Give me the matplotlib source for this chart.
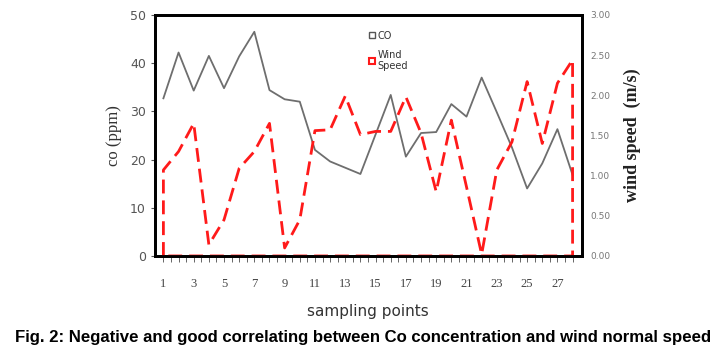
import matplotlib.pyplot as plt
from matplotlib.lines import Line2D

# sampling points 1..28
points = list(range(1, 29))

co_ppm = [32.7, 42.2, 34.3, 41.5, 34.8, 41.4, 46.5, 34.4, 32.5, 32.0,
          22.0, 19.6, 18.3, 17.0, 25.2, 33.4, 20.6, 25.5, 25.7, 31.5,
          28.9, 37.0, 29.8, 22.5, 14.0, 19.2, 26.3, 16.8]

wind_ms = [1.07, 1.30, 1.65, 0.14, 0.45, 1.09, 1.30, 1.65, 0.10, 0.45,
           1.56, 1.57, 1.99, 1.51, 1.55, 1.55, 1.98, 1.53, 0.80, 1.69,
           0.86, 0.02, 1.07, 1.42, 2.17, 1.40, 2.15, 2.44]

xtick_labels = [str(p) for p in points if p % 2 == 1 and p < 28]
co_ticks = [0, 10, 20, 30, 40, 50]
wind_ticks = [0.0, 0.5, 1.0, 1.5, 2.0, 2.5, 3.0]

fig = plt.figure(figsize=(7.28, 3.55), dpi=100)
ax = fig.add_axes([0.213, 0.279, 0.586, 0.679])

ax.plot(points, co_ppm, color='#6e6e6e', lw=1.3, zorder=3)
ax.set_xlim(0.45, 28.6)
ax.set_ylim(0, 50)
ax.set_yticks(co_ticks)
ax.set_yticklabels([str(t) for t in co_ticks], fontsize=9, color='#555555')
ax.set_xticks([p / 2 for p in range(2, 57)], minor=True)
ax.set_xticks([p for p in points if p % 2 == 1 and p < 28])
ax.set_xticklabels(xtick_labels, fontsize=9, family='Liberation Serif', color='#444444')
ax.tick_params(axis='x', which='both', length=4, width=0.7, color='#666666', pad=12)
ax.tick_params(axis='y', length=3, width=0.8, color='#555555')
ax.set_ylabel('co (ppm)', family='Liberation Serif', fontsize=12, color='#333333', labelpad=6)
ax.set_xlabel('sampling points', fontsize=11, color='#333333', labelpad=10)

ax2 = ax.twinx()
# wind speed drawn as a closed outline down to the baseline
wx = [points[0]] + points + [points[-1], points[0]]
wy = [0] + wind_ms + [0, 0]
ax2.plot(wx, wy, color='#ff1a1a', lw=2, dashes=(5, 2.5), zorder=2)
ax2.set_ylim(0, 3.0)
ax2.set_yticks(wind_ticks)
ax2.set_yticklabels(['%.2f' % t for t in wind_ticks], fontsize=6.5, color='#777777')
ax2.tick_params(axis='y', length=0, pad=6)
ax2.set_ylabel('wind speed  (m/s)', family='Liberation Serif', fontsize=13,
               fontweight='bold', color='#222222', labelpad=10)

for a in (ax, ax2):
    for s in a.spines.values():
        s.set_linewidth(2)
        s.set_color('black')

handles = [
    Line2D([], [], ls='none', marker='s', markersize=4, markerfacecolor='white',
           markeredgecolor='#555555'),
    Line2D([], [], ls='none', marker='s', markersize=4, markerfacecolor='none',
           markeredgecolor='#ff1a1a', markeredgewidth=1.5),
]
ax2.legend(handles, ['CO', 'Wind\nSpeed'], loc='upper left', bbox_to_anchor=(0.48, 0.97),
           frameon=False, fontsize=7, handlelength=0.6, handletextpad=0.3,
           labelspacing=0.9, labelcolor='#333333')

fig.text(0.499, 0.05, 'Fig. 2: Negative and good correlating between Co concentration and wind normal speed',
         ha='center', va='center', fontsize=12.1, fontweight='bold', family='Liberation Sans')

fig.savefig('out.png', dpi=100)
